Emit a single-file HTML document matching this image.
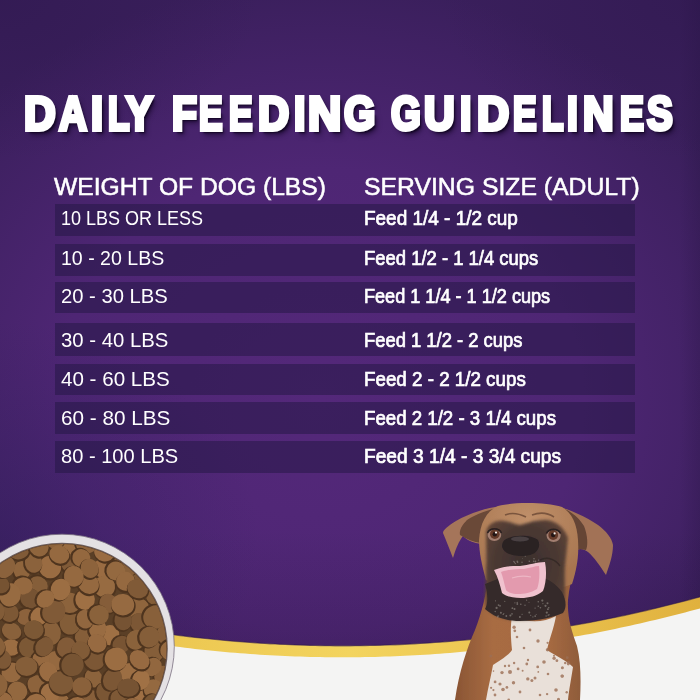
<!DOCTYPE html>
<html><head><meta charset="utf-8">
<style>
html,body{margin:0;padding:0;}
body{width:700px;height:700px;overflow:hidden;position:relative;font-family:"Liberation Sans",sans-serif;
background:#452270;}
#bg{position:absolute;left:0;top:0;width:700px;height:700px;
background:
 radial-gradient(ellipse 260px 220px at 0px 540px, rgba(40,28,85,0.4) 0%, rgba(40,28,85,0) 100%),
 linear-gradient(180deg, rgba(30,15,50,0) 0px, rgba(30,15,50,0) 530px, rgba(30,15,50,0.18) 650px),
 radial-gradient(ellipse 260px 160px at 0px 0px, rgba(40,20,70,0.35) 0%, rgba(40,20,70,0) 100%),
 radial-gradient(ellipse 260px 160px at 700px 0px, rgba(40,20,70,0.35) 0%, rgba(40,20,70,0) 100%),
 linear-gradient(90deg, rgba(30,15,55,0) 0%, rgba(30,15,55,0) 97%, rgba(30,15,55,0.2) 100%),
 radial-gradient(ellipse 480px 420px at 320px 400px, rgb(84,40,122) 0%, rgb(78,38,116) 55%, rgb(58,31,92) 100%);}
.t{position:absolute;white-space:pre;color:#fff;transform-origin:0 0;line-height:1;}
.tl{position:absolute;top:89.5px;font-size:47.5px;font-weight:bold;color:#fff;-webkit-text-stroke:4px #fff;line-height:1;transform-origin:0 0;white-space:pre;text-shadow:3px 3px 2px rgba(18,5,35,0.95), 4px 5px 6px rgba(18,5,35,0.6);}
.hdr{font-size:24.7px;-webkit-text-stroke:0.55px #fff;}
.bar{position:absolute;left:55px;width:580px;background:rgba(34,22,66,0.5);}
.l{font-size:21px;left:61.2px;}
.r{font-size:20px;font-weight:normal;-webkit-text-stroke:0.7px #fff;left:364px;}
svg{position:absolute;left:0;top:0;}
</style></head><body>
<div id="bg"></div>
<div class="tl" style="left:23.58px;transform:scaleX(0.9242)">D</div>
<div class="tl" style="left:58.63px;transform:scaleX(0.8158)">A</div>
<div class="tl" style="left:90.59px;transform:scaleX(0.9091)">I</div>
<div class="tl" style="left:107.76px;transform:scaleX(0.7414)">L</div>
<div class="tl" style="left:125.69px;transform:scaleX(0.8472)">Y</div>
<div class="tl" style="left:172.14px;transform:scaleX(0.8571)">F</div>
<div class="tl" style="left:199.26px;transform:scaleX(0.7419)">E</div>
<div class="tl" style="left:228.76px;transform:scaleX(0.7419)">E</div>
<div class="tl" style="left:257.59px;transform:scaleX(0.9091)">D</div>
<div class="tl" style="left:293.64px;transform:scaleX(0.8636)">I</div>
<div class="tl" style="left:308.03px;transform:scaleX(0.9688)">N</div>
<div class="tl" style="left:343.50px;transform:scaleX(0.8472)">G</div>
<div class="tl" style="left:390.50px;transform:scaleX(0.8056)">G</div>
<div class="tl" style="left:423.61px;transform:scaleX(0.8939)">U</div>
<div class="tl" style="left:460.14px;transform:scaleX(0.8636)">I</div>
<div class="tl" style="left:476.56px;transform:scaleX(0.9394)">D</div>
<div class="tl" style="left:513.26px;transform:scaleX(0.7419)">E</div>
<div class="tl" style="left:541.76px;transform:scaleX(0.7414)">L</div>
<div class="tl" style="left:567.18px;transform:scaleX(0.8182)">I</div>
<div class="tl" style="left:583.11px;transform:scaleX(0.8906)">N</div>
<div class="tl" style="left:619.85px;transform:scaleX(0.7548)">E</div>
<div class="tl" style="left:647.11px;transform:scaleX(0.8121)">S</div>
<div class="t hdr" style="left:54px;top:175px;transform:scaleX(0.998)">WEIGHT OF DOG (LBS)</div>
<div class="t hdr" style="left:364px;top:175px;transform:scaleX(1.003)">SERVING SIZE (ADULT)</div>

<div class="bar" style="top:204px;height:32px"></div>
<div class="bar" style="top:244px;height:32px"></div>
<div class="bar" style="top:282px;height:31px"></div>
<div class="bar" style="top:323px;height:33px"></div>
<div class="bar" style="top:364px;height:31px"></div>
<div class="bar" style="top:402px;height:32px"></div>
<div class="bar" style="top:441px;height:32px"></div>

<div class="t l" style="top:207px;transform:scaleX(0.8571)">10 LBS OR LESS</div>
<div class="t l" style="top:247px;transform:scaleX(0.9305)">10 - 20 LBS</div>
<div class="t l" style="top:285px;transform:scaleX(0.9619)">20 - 30 LBS</div>
<div class="t l" style="top:329px;transform:scaleX(0.9676)">30 - 40 LBS</div>
<div class="t l" style="top:368px;transform:scaleX(0.98)">40 - 60 LBS</div>
<div class="t l" style="top:407px;transform:scaleX(0.9857)">60 - 80 LBS</div>
<div class="t l" style="top:445px;transform:scaleX(0.9562)">80 - 100 LBS</div>

<div class="t r" style="top:208px;transform:scaleX(0.9478)">Feed 1/4 - 1/2 cup</div>
<div class="t r" style="top:248px;transform:scaleX(0.9221)">Feed 1/2 - 1 1/4 cups</div>
<div class="t r" style="top:286px;transform:scaleX(0.9048)">Feed 1 1/4 - 1 1/2 cups</div>
<div class="t r" style="top:330px;transform:scaleX(0.9192)">Feed 1 1/2 - 2 cups</div>
<div class="t r" style="top:369px;transform:scaleX(0.9388)">Feed 2 - 2 1/2 cups</div>
<div class="t r" style="top:408px;transform:scaleX(0.9333)">Feed 2 1/2 - 3 1/4 cups</div>
<div class="t r" style="top:446px;transform:scaleX(0.9583)">Feed 3 1/4 - 3 3/4 cups</div>

<svg width="700" height="700" viewBox="0 0 700 700">
<defs>
 <linearGradient id="gold" x1="0" x2="1" y1="0" y2="0">
  <stop offset="0" stop-color="#e6bb45"/><stop offset="0.5" stop-color="#f3d45e"/><stop offset="0.8" stop-color="#e9c04c"/><stop offset="1" stop-color="#e0b13e"/>
 </linearGradient>
 <clipPath id="bowlclip"><circle cx="62" cy="648.5" r="104.5"/></clipPath>
</defs>
<!-- gold band: ellipse bottom (cx345, cy318.5, rx700, ry326) -->
<path d="M0,560 L0,620 A700,326 0 0 0 700,598 L700,560 Z" fill="none"/>
<path id="goldp" d="M0,700 L0,600.6 L5,601.9 L10,603.2 L15,604.5 L20,605.7 L25,607.0 L30,608.2 L35,609.4 L40,610.5 L45,611.7 L50,612.8 L55,613.9 L60,615.0 L65,616.1 L70,617.2 L75,618.2 L80,619.2 L85,620.2 L90,621.2 L95,622.2 L100,623.1 L105,624.0 L110,625.0 L115,625.8 L120,626.7 L125,627.6 L130,628.4 L135,629.2 L140,630.0 L145,630.7 L150,631.5 L155,632.2 L160,632.9 L165,633.6 L170,634.3 L175,635.0 L180,635.6 L185,636.2 L190,636.8 L195,637.4 L200,637.9 L205,638.5 L210,639.0 L215,639.5 L220,640.0 L225,640.5 L230,640.9 L235,641.3 L240,641.7 L245,642.1 L250,642.5 L255,642.8 L260,643.2 L265,643.5 L270,643.8 L275,644.0 L280,644.3 L285,644.5 L290,644.7 L295,644.9 L300,645.1 L305,645.2 L310,645.4 L315,645.5 L320,645.6 L325,645.7 L330,645.7 L335,645.8 L340,645.8 L345,645.8 L350,645.8 L355,645.7 L360,645.7 L365,645.6 L370,645.5 L375,645.4 L380,645.3 L385,645.1 L390,645.0 L395,644.8 L400,644.6 L405,644.3 L410,644.1 L415,643.8 L420,643.5 L425,643.2 L430,642.9 L435,642.5 L440,642.2 L445,641.8 L450,641.4 L455,641.0 L460,640.5 L465,640.1 L470,639.6 L475,639.1 L480,638.6 L485,638.1 L490,637.5 L495,636.9 L500,636.3 L505,635.7 L510,635.1 L515,634.4 L520,633.8 L525,633.1 L530,632.4 L535,631.6 L540,630.9 L545,630.1 L550,629.3 L555,628.5 L560,627.7 L565,626.9 L570,626.0 L575,625.1 L580,624.2 L585,623.3 L590,622.4 L595,621.4 L600,620.4 L605,619.4 L610,618.4 L615,617.4 L620,616.3 L625,615.3 L630,614.2 L635,613.1 L640,611.9 L645,610.8 L650,609.6 L655,608.4 L660,607.2 L665,606.0 L670,604.7 L675,603.5 L680,602.2 L685,600.9 L690,599.6 L695,598.2 L700,596.9 L700,700 Z" fill="url(#gold)"/>
<path d="M0,600.6 L5,601.9 L10,603.2 L15,604.5 L20,605.7 L25,607.0 L30,608.2 L35,609.4 L40,610.5 L45,611.7 L50,612.8 L55,613.9 L60,615.0 L65,616.1 L70,617.2 L75,618.2 L80,619.2 L85,620.2 L90,621.2 L95,622.2 L100,623.1 L105,624.0 L110,625.0 L115,625.8 L120,626.7 L125,627.6 L130,628.4 L135,629.2 L140,630.0 L145,630.7 L150,631.5 L155,632.2 L160,632.9 L165,633.6 L170,634.3 L175,635.0 L180,635.6 L185,636.2 L190,636.8 L195,637.4 L200,637.9 L205,638.5 L210,639.0 L215,639.5 L220,640.0 L225,640.5 L230,640.9 L235,641.3 L240,641.7 L245,642.1 L250,642.5 L255,642.8 L260,643.2 L265,643.5 L270,643.8 L275,644.0 L280,644.3 L285,644.5 L290,644.7 L295,644.9 L300,645.1 L305,645.2 L310,645.4 L315,645.5 L320,645.6 L325,645.7 L330,645.7 L335,645.8 L340,645.8 L345,645.8 L350,645.8 L355,645.7 L360,645.7 L365,645.6 L370,645.5 L375,645.4 L380,645.3 L385,645.1 L390,645.0 L395,644.8 L400,644.6 L405,644.3 L410,644.1 L415,643.8 L420,643.5 L425,643.2 L430,642.9 L435,642.5 L440,642.2 L445,641.8 L450,641.4 L455,641.0 L460,640.5 L465,640.1 L470,639.6 L475,639.1 L480,638.6 L485,638.1 L490,637.5 L495,636.9 L500,636.3 L505,635.7 L510,635.1 L515,634.4 L520,633.8 L525,633.1 L530,632.4 L535,631.6 L540,630.9 L545,630.1 L550,629.3 L555,628.5 L560,627.7 L565,626.9 L570,626.0 L575,625.1 L580,624.2 L585,623.3 L590,622.4 L595,621.4 L600,620.4 L605,619.4 L610,618.4 L615,617.4 L620,616.3 L625,615.3 L630,614.2 L635,613.1 L640,611.9 L645,610.8 L650,609.6 L655,608.4 L660,607.2 L665,606.0 L670,604.7 L675,603.5 L680,602.2 L685,600.9 L690,599.6 L695,598.2 L700,596.9" fill="none" stroke="#2e1a4a" stroke-width="1.2" stroke-opacity="0.55"/>
<path id="whitep" d="M0,700 L0,612.1 L5,613.4 L10,614.7 L15,616.0 L20,617.2 L25,618.5 L30,619.7 L35,620.9 L40,622.0 L45,623.2 L50,624.3 L55,625.4 L60,626.5 L65,627.6 L70,628.7 L75,629.7 L80,630.7 L85,631.7 L90,632.7 L95,633.7 L100,634.6 L105,635.5 L110,636.5 L115,637.3 L120,638.2 L125,639.1 L130,639.9 L135,640.7 L140,641.5 L145,642.2 L150,643.0 L155,643.7 L160,644.4 L165,645.1 L170,645.8 L175,646.5 L180,647.1 L185,647.7 L190,648.3 L195,648.9 L200,649.4 L205,650.0 L210,650.5 L215,651.0 L220,651.5 L225,652.0 L230,652.4 L235,652.8 L240,653.2 L245,653.6 L250,654.0 L255,654.3 L260,654.7 L265,655.0 L270,655.3 L275,655.5 L280,655.8 L285,656.0 L290,656.2 L295,656.4 L300,656.6 L305,656.7 L310,656.9 L315,657.0 L320,657.1 L325,657.2 L330,657.2 L335,657.3 L340,657.3 L345,657.3 L350,657.3 L355,657.2 L360,657.2 L365,657.1 L370,657.0 L375,656.9 L380,656.8 L385,656.6 L390,656.5 L395,656.3 L400,656.1 L405,655.8 L410,655.6 L415,655.3 L420,655.0 L425,654.7 L430,654.4 L435,654.0 L440,653.7 L445,653.3 L450,652.9 L455,652.5 L460,652.0 L465,651.6 L470,651.1 L475,650.6 L480,650.1 L485,649.6 L490,649.0 L495,648.4 L500,647.8 L505,647.2 L510,646.6 L515,645.9 L520,645.3 L525,644.6 L530,643.9 L535,643.1 L540,642.4 L545,641.6 L550,640.8 L555,640.0 L560,639.2 L565,638.4 L570,637.5 L575,636.6 L580,635.7 L585,634.8 L590,633.9 L595,632.9 L600,631.9 L605,630.9 L610,629.9 L615,628.9 L620,627.8 L625,626.8 L630,625.7 L635,624.6 L640,623.4 L645,622.3 L650,621.1 L655,619.9 L660,618.7 L665,617.5 L670,616.2 L675,615.0 L680,613.7 L685,612.4 L690,611.1 L695,609.7 L700,608.4 L700,700 Z" fill="#f4f4f3"/>
<!-- bowl -->
<circle cx="62" cy="646.5" r="112.3" fill="#e4e1e4" stroke="#7a7080" stroke-width="0.8"/>
<circle cx="62" cy="648.5" r="105.8" fill="#6a5a58"/>
<circle cx="62" cy="648.5" r="104.5" fill="#5a3f26"/>
<g clip-path="url(#bowlclip)">
<g transform="rotate(156 37.6 586.4)"><ellipse cx="38.4" cy="587.6" rx="11.0" ry="11.0" fill="#4e341e"/><ellipse cx="37.6" cy="586.4" rx="10.2" ry="10.2" fill="#855e39"/></g>
<g transform="rotate(30 109.6 635.1)"><ellipse cx="110.4" cy="636.3" rx="10.7" ry="10.9" fill="#4e341e"/><ellipse cx="109.6" cy="635.1" rx="9.9" ry="10.1" fill="#9f7044"/></g>
<g transform="rotate(125 -9.8 565.9)"><ellipse cx="-9.0" cy="567.1" rx="10.8" ry="9.6" fill="#4e341e"/><ellipse cx="-9.8" cy="565.9" rx="10.0" ry="8.8" fill="#92673f"/></g>
<g transform="rotate(5 143.3 574.6)"><ellipse cx="144.1" cy="575.8" rx="12.1" ry="12.1" fill="#4e341e"/><ellipse cx="143.3" cy="574.6" rx="11.3" ry="11.3" fill="#7e5936"/></g>
<g transform="rotate(82 88.9 698.6)"><ellipse cx="89.7" cy="699.8" rx="10.3" ry="9.8" fill="#4e341e"/><ellipse cx="88.9" cy="698.6" rx="9.5" ry="9.0" fill="#875f3a"/></g>
<g transform="rotate(147 85.0 635.5)"><ellipse cx="85.8" cy="636.7" rx="11.4" ry="9.8" fill="#4e341e"/><ellipse cx="85.0" cy="635.5" rx="10.6" ry="9.0" fill="#855e39"/></g>
<g transform="rotate(90 70.2 623.1)"><ellipse cx="71.0" cy="624.3" rx="12.2" ry="11.3" fill="#4e341e"/><ellipse cx="70.2" cy="623.1" rx="11.4" ry="10.5" fill="#835d38"/></g>
<g transform="rotate(176 60.3 702.9)"><ellipse cx="61.1" cy="704.1" rx="10.4" ry="10.2" fill="#4e341e"/><ellipse cx="60.3" cy="702.9" rx="9.6" ry="9.4" fill="#966a40"/></g>
<g transform="rotate(94 55.7 660.8)"><ellipse cx="56.5" cy="662.0" rx="10.5" ry="10.4" fill="#4e341e"/><ellipse cx="55.7" cy="660.8" rx="9.7" ry="9.6" fill="#956940"/></g>
<g transform="rotate(111 30.5 598.4)"><ellipse cx="31.3" cy="599.6" rx="10.6" ry="10.9" fill="#4e341e"/><ellipse cx="30.5" cy="598.4" rx="9.8" ry="10.1" fill="#765333"/></g>
<g transform="rotate(28 11.6 631.1)"><ellipse cx="12.4" cy="632.3" rx="10.8" ry="9.1" fill="#4e341e"/><ellipse cx="11.6" cy="631.1" rx="10.0" ry="8.3" fill="#89613b"/></g>
<g transform="rotate(96 97.7 628.9)"><ellipse cx="98.5" cy="630.1" rx="10.9" ry="9.4" fill="#4e341e"/><ellipse cx="97.7" cy="628.9" rx="10.1" ry="8.6" fill="#996c42"/></g>
<g transform="rotate(98 107.8 705.3)"><ellipse cx="108.6" cy="706.5" rx="10.2" ry="10.3" fill="#4e341e"/><ellipse cx="107.8" cy="705.3" rx="9.4" ry="9.5" fill="#976a41"/></g>
<g transform="rotate(116 -11.8 599.0)"><ellipse cx="-11.0" cy="600.2" rx="11.8" ry="10.6" fill="#4e341e"/><ellipse cx="-11.8" cy="599.0" rx="11.0" ry="9.8" fill="#8a613b"/></g>
<g transform="rotate(1 -31.5 637.3)"><ellipse cx="-30.7" cy="638.5" rx="10.9" ry="9.9" fill="#4e341e"/><ellipse cx="-31.5" cy="637.3" rx="10.1" ry="9.1" fill="#88603b"/></g>
<g transform="rotate(67 93.5 677.9)"><ellipse cx="94.3" cy="679.1" rx="10.5" ry="9.4" fill="#4e341e"/><ellipse cx="93.5" cy="677.9" rx="9.7" ry="8.6" fill="#8c633c"/></g>
<g transform="rotate(68 94.4 658.5)"><ellipse cx="95.2" cy="659.7" rx="12.5" ry="11.4" fill="#4e341e"/><ellipse cx="94.4" cy="658.5" rx="11.7" ry="10.6" fill="#7c5735"/></g>
<g transform="rotate(50 71.5 546.0)"><ellipse cx="72.3" cy="547.2" rx="9.8" ry="10.4" fill="#4e341e"/><ellipse cx="71.5" cy="546.0" rx="9.0" ry="9.6" fill="#996c42"/></g>
<g transform="rotate(106 17.3 691.4)"><ellipse cx="18.1" cy="692.6" rx="10.6" ry="10.7" fill="#4e341e"/><ellipse cx="17.3" cy="691.4" rx="9.8" ry="9.9" fill="#93683f"/></g>
<g transform="rotate(3 69.5 602.7)"><ellipse cx="70.3" cy="603.9" rx="12.1" ry="11.1" fill="#4e341e"/><ellipse cx="69.5" cy="602.7" rx="11.3" ry="10.3" fill="#8c633c"/></g>
<g transform="rotate(77 164.0 676.5)"><ellipse cx="164.8" cy="677.7" rx="11.5" ry="10.5" fill="#4e341e"/><ellipse cx="164.0" cy="676.5" rx="10.7" ry="9.7" fill="#8a613b"/></g>
<g transform="rotate(67 -31.3 680.9)"><ellipse cx="-30.5" cy="682.1" rx="10.3" ry="9.6" fill="#4e341e"/><ellipse cx="-31.3" cy="680.9" rx="9.5" ry="8.8" fill="#8c623c"/></g>
<g transform="rotate(118 129.7 673.0)"><ellipse cx="130.5" cy="674.2" rx="10.7" ry="10.8" fill="#4e341e"/><ellipse cx="129.7" cy="673.0" rx="9.9" ry="10.0" fill="#9c6e43"/></g>
<g transform="rotate(86 104.5 691.9)"><ellipse cx="105.3" cy="693.1" rx="10.4" ry="9.0" fill="#4e341e"/><ellipse cx="104.5" cy="691.9" rx="9.6" ry="8.2" fill="#7a5634"/></g>
<g transform="rotate(38 -22.1 648.2)"><ellipse cx="-21.3" cy="649.4" rx="10.3" ry="9.6" fill="#4e341e"/><ellipse cx="-22.1" cy="648.2" rx="9.5" ry="8.8" fill="#92673f"/></g>
<g transform="rotate(52 20.7 711.9)"><ellipse cx="21.5" cy="713.1" rx="10.5" ry="10.1" fill="#4e341e"/><ellipse cx="20.7" cy="711.9" rx="9.7" ry="9.3" fill="#9e6f44"/></g>
<g transform="rotate(166 137.7 608.5)"><ellipse cx="138.5" cy="609.7" rx="12.2" ry="11.1" fill="#4e341e"/><ellipse cx="137.7" cy="608.5" rx="11.4" ry="10.3" fill="#8f653d"/></g>
<g transform="rotate(1 11.1 647.5)"><ellipse cx="11.9" cy="648.7" rx="10.2" ry="9.1" fill="#4e341e"/><ellipse cx="11.1" cy="647.5" rx="9.4" ry="8.3" fill="#9b6d42"/></g>
<g transform="rotate(166 25.9 616.9)"><ellipse cx="26.7" cy="618.1" rx="10.0" ry="8.7" fill="#4e341e"/><ellipse cx="25.9" cy="616.9" rx="9.2" ry="7.9" fill="#8c623c"/></g>
<g transform="rotate(47 102.6 569.3)"><ellipse cx="103.4" cy="570.5" rx="11.2" ry="9.3" fill="#4e341e"/><ellipse cx="102.6" cy="569.3" rx="10.4" ry="8.5" fill="#9a6c42"/></g>
<g transform="rotate(81 -42.7 623.2)"><ellipse cx="-41.9" cy="624.4" rx="10.3" ry="8.9" fill="#4e341e"/><ellipse cx="-42.7" cy="623.2" rx="9.5" ry="8.1" fill="#765333"/></g>
<g transform="rotate(131 39.7 616.1)"><ellipse cx="40.5" cy="617.3" rx="10.9" ry="9.4" fill="#4e341e"/><ellipse cx="39.7" cy="616.1" rx="10.1" ry="8.6" fill="#9f7044"/></g>
<g transform="rotate(70 69.5 563.1)"><ellipse cx="70.3" cy="564.3" rx="10.0" ry="9.3" fill="#4e341e"/><ellipse cx="69.5" cy="563.1" rx="9.2" ry="8.5" fill="#805a37"/></g>
<g transform="rotate(41 50.0 567.1)"><ellipse cx="50.8" cy="568.3" rx="12.0" ry="11.8" fill="#4e341e"/><ellipse cx="50.0" cy="567.1" rx="11.2" ry="11.0" fill="#9a6c42"/></g>
<g transform="rotate(141 -30.8 594.2)"><ellipse cx="-30.0" cy="595.4" rx="10.6" ry="11.0" fill="#4e341e"/><ellipse cx="-30.8" cy="594.2" rx="9.8" ry="10.2" fill="#91663e"/></g>
<g transform="rotate(5 156.6 596.0)"><ellipse cx="157.4" cy="597.2" rx="11.5" ry="10.3" fill="#4e341e"/><ellipse cx="156.6" cy="596.0" rx="10.7" ry="9.5" fill="#835d38"/></g>
<g transform="rotate(110 66.4 647.6)"><ellipse cx="67.2" cy="648.8" rx="11.3" ry="10.1" fill="#4e341e"/><ellipse cx="66.4" cy="647.6" rx="10.5" ry="9.3" fill="#825b38"/></g>
<g transform="rotate(50 49.1 711.6)"><ellipse cx="49.9" cy="712.8" rx="10.8" ry="9.9" fill="#4e341e"/><ellipse cx="49.1" cy="711.6" rx="10.0" ry="9.1" fill="#9e7044"/></g>
<g transform="rotate(134 121.3 644.6)"><ellipse cx="122.1" cy="645.8" rx="10.1" ry="9.2" fill="#4e341e"/><ellipse cx="121.3" cy="644.6" rx="9.3" ry="8.4" fill="#785433"/></g>
<g transform="rotate(113 29.1 647.3)"><ellipse cx="29.9" cy="648.5" rx="11.1" ry="11.0" fill="#4e341e"/><ellipse cx="29.1" cy="647.3" rx="10.3" ry="10.2" fill="#7c5835"/></g>
<g transform="rotate(123 -37.4 608.0)"><ellipse cx="-36.6" cy="609.2" rx="10.8" ry="10.2" fill="#4e341e"/><ellipse cx="-37.4" cy="608.0" rx="10.0" ry="9.4" fill="#755332"/></g>
<g transform="rotate(160 87.3 543.5)"><ellipse cx="88.1" cy="544.7" rx="12.1" ry="10.7" fill="#4e341e"/><ellipse cx="87.3" cy="543.5" rx="11.3" ry="9.9" fill="#8e643d"/></g>
<g transform="rotate(75 -16.9 695.6)"><ellipse cx="-16.1" cy="696.8" rx="11.9" ry="11.4" fill="#4e341e"/><ellipse cx="-16.9" cy="695.6" rx="11.1" ry="10.6" fill="#815b37"/></g>
<g transform="rotate(116 41.1 659.4)"><ellipse cx="41.9" cy="660.6" rx="10.2" ry="9.5" fill="#4e341e"/><ellipse cx="41.1" cy="659.4" rx="9.4" ry="8.7" fill="#966940"/></g>
<g transform="rotate(35 -13.0 710.5)"><ellipse cx="-12.2" cy="711.7" rx="10.8" ry="9.9" fill="#4e341e"/><ellipse cx="-13.0" cy="710.5" rx="10.0" ry="9.1" fill="#875f3a"/></g>
<g transform="rotate(173 11.7 672.4)"><ellipse cx="12.5" cy="673.6" rx="11.0" ry="10.6" fill="#4e341e"/><ellipse cx="11.7" cy="672.4" rx="10.2" ry="9.8" fill="#956940"/></g>
<g transform="rotate(89 51.1 633.2)"><ellipse cx="51.9" cy="634.4" rx="12.7" ry="10.6" fill="#4e341e"/><ellipse cx="51.1" cy="633.2" rx="11.9" ry="9.8" fill="#89613b"/></g>
<g transform="rotate(78 22.0 570.4)"><ellipse cx="22.8" cy="571.6" rx="10.1" ry="9.2" fill="#4e341e"/><ellipse cx="22.0" cy="570.4" rx="9.3" ry="8.4" fill="#8f653d"/></g>
<g transform="rotate(80 154.5 651.1)"><ellipse cx="155.3" cy="652.3" rx="11.3" ry="10.8" fill="#4e341e"/><ellipse cx="154.5" cy="651.1" rx="10.5" ry="10.0" fill="#855e39"/></g>
<g transform="rotate(87 85.1 599.5)"><ellipse cx="85.9" cy="600.7" rx="11.4" ry="10.6" fill="#4e341e"/><ellipse cx="85.1" cy="599.5" rx="10.6" ry="9.8" fill="#9f7044"/></g>
<g transform="rotate(101 -33.9 654.3)"><ellipse cx="-33.1" cy="655.5" rx="10.0" ry="10.4" fill="#4e341e"/><ellipse cx="-33.9" cy="654.3" rx="9.2" ry="9.6" fill="#8d633d"/></g>
<g transform="rotate(76 85.1 619.1)"><ellipse cx="85.9" cy="620.3" rx="10.3" ry="9.2" fill="#4e341e"/><ellipse cx="85.1" cy="619.1" rx="9.5" ry="8.4" fill="#92673f"/></g>
<g transform="rotate(36 97.1 643.2)"><ellipse cx="97.9" cy="644.4" rx="10.5" ry="9.8" fill="#4e341e"/><ellipse cx="97.1" cy="643.2" rx="9.7" ry="9.0" fill="#976a41"/></g>
<g transform="rotate(107 119.7 698.4)"><ellipse cx="120.5" cy="699.6" rx="9.7" ry="10.0" fill="#4e341e"/><ellipse cx="119.7" cy="698.4" rx="8.9" ry="9.2" fill="#7e5936"/></g>
<g transform="rotate(50 37.9 685.9)"><ellipse cx="38.7" cy="687.1" rx="12.2" ry="10.4" fill="#4e341e"/><ellipse cx="37.9" cy="685.9" rx="11.4" ry="9.6" fill="#8d633c"/></g>
<g transform="rotate(6 26.4 666.3)"><ellipse cx="27.2" cy="667.5" rx="11.8" ry="10.4" fill="#4e341e"/><ellipse cx="26.4" cy="666.3" rx="11.0" ry="9.6" fill="#855e39"/></g>
<g transform="rotate(65 54.9 537.8)"><ellipse cx="55.7" cy="539.0" rx="11.7" ry="11.4" fill="#4e341e"/><ellipse cx="54.9" cy="537.8" rx="10.9" ry="10.6" fill="#8d633c"/></g>
<g transform="rotate(89 129.7 564.8)"><ellipse cx="130.5" cy="566.0" rx="11.4" ry="10.1" fill="#4e341e"/><ellipse cx="129.7" cy="564.8" rx="10.6" ry="9.3" fill="#88603a"/></g>
<g transform="rotate(67 2.4 659.1)"><ellipse cx="3.2" cy="660.3" rx="10.7" ry="9.5" fill="#4e341e"/><ellipse cx="2.4" cy="659.1" rx="9.9" ry="8.7" fill="#7d5836"/></g>
<g transform="rotate(172 23.0 586.0)"><ellipse cx="23.8" cy="587.2" rx="10.7" ry="9.5" fill="#4e341e"/><ellipse cx="23.0" cy="586.0" rx="9.9" ry="8.7" fill="#956940"/></g>
<g transform="rotate(62 48.3 671.7)"><ellipse cx="49.1" cy="672.9" rx="10.9" ry="9.6" fill="#4e341e"/><ellipse cx="48.3" cy="671.7" rx="10.1" ry="8.8" fill="#9a6c42"/></g>
<g transform="rotate(34 9.4 612.8)"><ellipse cx="10.2" cy="614.0" rx="10.0" ry="9.8" fill="#4e341e"/><ellipse cx="9.4" cy="612.8" rx="9.2" ry="9.0" fill="#7d5835"/></g>
<g transform="rotate(99 10.1 594.9)"><ellipse cx="10.9" cy="596.1" rx="12.5" ry="11.5" fill="#4e341e"/><ellipse cx="10.1" cy="594.9" rx="11.7" ry="10.7" fill="#976b41"/></g>
<g transform="rotate(30 0.4 584.7)"><ellipse cx="1.2" cy="585.9" rx="10.0" ry="9.2" fill="#4e341e"/><ellipse cx="0.4" cy="584.7" rx="9.2" ry="8.4" fill="#765332"/></g>
<g transform="rotate(152 140.9 694.0)"><ellipse cx="141.7" cy="695.2" rx="10.6" ry="9.9" fill="#4e341e"/><ellipse cx="140.9" cy="694.0" rx="9.8" ry="9.1" fill="#9e6f44"/></g>
<g transform="rotate(136 53.8 611.9)"><ellipse cx="54.6" cy="613.1" rx="12.9" ry="11.8" fill="#4e341e"/><ellipse cx="53.8" cy="611.9" rx="12.1" ry="11.0" fill="#805a37"/></g>
<g transform="rotate(56 139.8 623.0)"><ellipse cx="140.6" cy="624.2" rx="11.0" ry="10.1" fill="#4e341e"/><ellipse cx="139.8" cy="623.0" rx="10.2" ry="9.3" fill="#7c5735"/></g>
<g transform="rotate(134 152.6 667.0)"><ellipse cx="153.4" cy="668.2" rx="10.6" ry="9.3" fill="#4e341e"/><ellipse cx="152.6" cy="667.0" rx="9.8" ry="8.5" fill="#92673f"/></g>
<g transform="rotate(65 -46.4 645.8)"><ellipse cx="-45.6" cy="647.0" rx="10.8" ry="10.8" fill="#4e341e"/><ellipse cx="-46.4" cy="645.8" rx="10.0" ry="10.0" fill="#91663e"/></g>
<g transform="rotate(150 81.3 558.1)"><ellipse cx="82.1" cy="559.3" rx="9.8" ry="9.8" fill="#4e341e"/><ellipse cx="81.3" cy="558.1" rx="9.0" ry="9.0" fill="#94683f"/></g>
<g transform="rotate(9 104.3 586.5)"><ellipse cx="105.1" cy="587.7" rx="11.6" ry="11.5" fill="#4e341e"/><ellipse cx="104.3" cy="586.5" rx="10.8" ry="10.7" fill="#976b41"/></g>
<g transform="rotate(157 50.5 692.9)"><ellipse cx="51.3" cy="694.1" rx="10.3" ry="10.5" fill="#4e341e"/><ellipse cx="50.5" cy="692.9" rx="9.5" ry="9.7" fill="#9f7045"/></g>
<g transform="rotate(26 61.2 682.8)"><ellipse cx="62.0" cy="684.0" rx="13.0" ry="12.2" fill="#4e341e"/><ellipse cx="61.2" cy="682.8" rx="12.2" ry="11.4" fill="#7f5a37"/></g>
<g transform="rotate(25 59.3 554.5)"><ellipse cx="60.1" cy="555.7" rx="10.9" ry="9.7" fill="#4e341e"/><ellipse cx="59.3" cy="554.5" rx="10.1" ry="8.9" fill="#956940"/></g>
<g transform="rotate(45 153.4 688.9)"><ellipse cx="154.2" cy="690.1" rx="10.5" ry="10.6" fill="#4e341e"/><ellipse cx="153.4" cy="688.9" rx="9.7" ry="9.8" fill="#946940"/></g>
<g transform="rotate(98 -9.9 624.6)"><ellipse cx="-9.1" cy="625.8" rx="12.2" ry="10.5" fill="#4e341e"/><ellipse cx="-9.9" cy="624.6" rx="11.4" ry="9.7" fill="#966a40"/></g>
<g transform="rotate(110 112.6 679.5)"><ellipse cx="113.4" cy="680.7" rx="12.1" ry="10.2" fill="#4e341e"/><ellipse cx="112.6" cy="679.5" rx="11.3" ry="9.4" fill="#7c5735"/></g>
<g transform="rotate(132 117.8 557.0)"><ellipse cx="118.6" cy="558.2" rx="11.5" ry="9.2" fill="#4e341e"/><ellipse cx="117.8" cy="557.0" rx="10.7" ry="8.4" fill="#805a37"/></g>
<g transform="rotate(125 152.7 703.0)"><ellipse cx="153.5" cy="704.2" rx="9.9" ry="9.4" fill="#4e341e"/><ellipse cx="152.7" cy="703.0" rx="9.1" ry="8.6" fill="#795634"/></g>
<g transform="rotate(1 -21.0 614.4)"><ellipse cx="-20.2" cy="615.6" rx="10.6" ry="9.2" fill="#4e341e"/><ellipse cx="-21.0" cy="614.4" rx="9.8" ry="8.4" fill="#845d39"/></g>
<g transform="rotate(32 135.8 639.8)"><ellipse cx="136.6" cy="641.0" rx="10.3" ry="10.9" fill="#4e341e"/><ellipse cx="135.8" cy="639.8" rx="9.5" ry="10.1" fill="#8a623b"/></g>
<g transform="rotate(43 88.1 583.2)"><ellipse cx="88.9" cy="584.4" rx="12.4" ry="10.7" fill="#4e341e"/><ellipse cx="88.1" cy="583.2" rx="11.6" ry="9.9" fill="#956940"/></g>
<g transform="rotate(110 140.9 680.2)"><ellipse cx="141.7" cy="681.4" rx="10.9" ry="9.6" fill="#4e341e"/><ellipse cx="140.9" cy="680.2" rx="10.1" ry="8.8" fill="#a07145"/></g>
<g transform="rotate(1 -12.0 661.9)"><ellipse cx="-11.2" cy="663.1" rx="10.0" ry="9.1" fill="#4e341e"/><ellipse cx="-12.0" cy="661.9" rx="9.2" ry="8.3" fill="#855e39"/></g>
<g transform="rotate(12 104.7 551.9)"><ellipse cx="105.5" cy="553.1" rx="11.4" ry="10.4" fill="#4e341e"/><ellipse cx="104.7" cy="551.9" rx="10.6" ry="9.6" fill="#9a6c42"/></g>
<g transform="rotate(149 115.9 570.9)"><ellipse cx="116.7" cy="572.1" rx="10.3" ry="10.3" fill="#4e341e"/><ellipse cx="115.9" cy="570.9" rx="9.5" ry="9.5" fill="#946940"/></g>
<g transform="rotate(170 0.9 702.1)"><ellipse cx="1.7" cy="703.3" rx="12.5" ry="11.0" fill="#4e341e"/><ellipse cx="0.9" cy="702.1" rx="11.7" ry="10.2" fill="#976a41"/></g>
<g transform="rotate(124 44.4 646.7)"><ellipse cx="45.2" cy="647.9" rx="10.9" ry="9.4" fill="#4e341e"/><ellipse cx="44.4" cy="646.7" rx="10.1" ry="8.6" fill="#7d5836"/></g>
<g transform="rotate(84 123.2 620.3)"><ellipse cx="124.0" cy="621.5" rx="10.8" ry="9.6" fill="#4e341e"/><ellipse cx="123.2" cy="620.3" rx="10.0" ry="8.8" fill="#765333"/></g>
<g transform="rotate(158 -32.9 667.3)"><ellipse cx="-32.1" cy="668.5" rx="9.7" ry="9.7" fill="#4e341e"/><ellipse cx="-32.9" cy="667.3" rx="8.9" ry="8.9" fill="#9a6c42"/></g>
<g transform="rotate(32 168.5 634.7)"><ellipse cx="169.3" cy="635.9" rx="12.7" ry="11.9" fill="#4e341e"/><ellipse cx="168.5" cy="634.7" rx="11.9" ry="11.1" fill="#875f3a"/></g>
<g transform="rotate(91 -32.1 699.9)"><ellipse cx="-31.3" cy="701.1" rx="12.3" ry="10.7" fill="#4e341e"/><ellipse cx="-32.1" cy="699.9" rx="11.5" ry="9.9" fill="#7e5936"/></g>
<g transform="rotate(17 80.5 650.4)"><ellipse cx="81.3" cy="651.6" rx="10.2" ry="9.8" fill="#4e341e"/><ellipse cx="80.5" cy="650.4" rx="9.4" ry="9.0" fill="#815b37"/></g>
<g transform="rotate(67 108.4 603.3)"><ellipse cx="109.2" cy="604.5" rx="10.4" ry="9.7" fill="#4e341e"/><ellipse cx="108.4" cy="603.3" rx="9.6" ry="8.9" fill="#855d39"/></g>
<g transform="rotate(113 -4.5 685.3)"><ellipse cx="-3.7" cy="686.5" rx="12.7" ry="12.7" fill="#4e341e"/><ellipse cx="-4.5" cy="685.3" rx="11.9" ry="11.9" fill="#8c633c"/></g>
<g transform="rotate(139 75.6 707.7)"><ellipse cx="76.4" cy="708.9" rx="12.8" ry="10.5" fill="#4e341e"/><ellipse cx="75.6" cy="707.7" rx="12.0" ry="9.7" fill="#9a6c42"/></g>
<g transform="rotate(76 33.6 563.0)"><ellipse cx="34.4" cy="564.2" rx="10.7" ry="9.5" fill="#4e341e"/><ellipse cx="33.6" cy="563.0" rx="9.9" ry="8.7" fill="#8b623c"/></g>
<g transform="rotate(32 125.5 581.3)"><ellipse cx="126.3" cy="582.5" rx="10.1" ry="10.3" fill="#4e341e"/><ellipse cx="125.5" cy="581.3" rx="9.3" ry="9.5" fill="#956940"/></g>
<g transform="rotate(1 128.2 687.6)"><ellipse cx="129.0" cy="688.8" rx="11.7" ry="9.9" fill="#4e341e"/><ellipse cx="128.2" cy="687.6" rx="10.9" ry="9.1" fill="#765333"/></g>
<g transform="rotate(11 33.7 629.6)"><ellipse cx="34.5" cy="630.8" rx="10.8" ry="10.2" fill="#4e341e"/><ellipse cx="33.7" cy="629.6" rx="10.0" ry="9.4" fill="#7c5835"/></g>
<g transform="rotate(96 116.1 659.0)"><ellipse cx="116.9" cy="660.2" rx="12.3" ry="12.2" fill="#4e341e"/><ellipse cx="116.1" cy="659.0" rx="11.5" ry="11.4" fill="#9b6d42"/></g>
<g transform="rotate(46 -5.4 646.0)"><ellipse cx="-4.6" cy="647.2" rx="12.0" ry="10.7" fill="#4e341e"/><ellipse cx="-5.4" cy="646.0" rx="11.2" ry="9.9" fill="#88603a"/></g>
<g transform="rotate(6 122.7 604.7)"><ellipse cx="123.5" cy="605.9" rx="12.3" ry="11.5" fill="#4e341e"/><ellipse cx="122.7" cy="604.7" rx="11.5" ry="10.7" fill="#966a41"/></g>
<g transform="rotate(69 95.2 711.8)"><ellipse cx="96.0" cy="713.0" rx="10.8" ry="9.7" fill="#4e341e"/><ellipse cx="95.2" cy="711.8" rx="10.0" ry="8.9" fill="#956940"/></g>
<g transform="rotate(128 72.5 664.9)"><ellipse cx="73.3" cy="666.1" rx="12.2" ry="11.8" fill="#4e341e"/><ellipse cx="72.5" cy="664.9" rx="11.4" ry="11.0" fill="#775433"/></g>
<g transform="rotate(63 89.7 568.3)"><ellipse cx="90.5" cy="569.5" rx="10.6" ry="9.6" fill="#4e341e"/><ellipse cx="89.7" cy="568.3" rx="9.8" ry="8.8" fill="#8d633c"/></g>
<g transform="rotate(154 155.5 617.1)"><ellipse cx="156.3" cy="618.3" rx="13.2" ry="12.4" fill="#4e341e"/><ellipse cx="155.5" cy="617.1" rx="12.4" ry="11.6" fill="#88603a"/></g>
<g transform="rotate(11 17.2 549.2)"><ellipse cx="18.0" cy="550.4" rx="12.7" ry="10.9" fill="#4e341e"/><ellipse cx="17.2" cy="549.2" rx="11.9" ry="10.1" fill="#805a37"/></g>
<g transform="rotate(180 171.6 650.6)"><ellipse cx="172.4" cy="651.8" rx="12.1" ry="10.9" fill="#4e341e"/><ellipse cx="171.6" cy="650.6" rx="11.3" ry="10.1" fill="#966a41"/></g>
<g transform="rotate(120 4.9 567.0)"><ellipse cx="5.7" cy="568.2" rx="12.1" ry="10.8" fill="#4e341e"/><ellipse cx="4.9" cy="567.0" rx="11.3" ry="10.0" fill="#8b623c"/></g>
<g transform="rotate(119 149.5 637.0)"><ellipse cx="150.3" cy="638.2" rx="11.4" ry="10.9" fill="#4e341e"/><ellipse cx="149.5" cy="637.0" rx="10.6" ry="10.1" fill="#855e39"/></g>
<g transform="rotate(131 99.0 614.9)"><ellipse cx="99.8" cy="616.1" rx="10.5" ry="10.7" fill="#4e341e"/><ellipse cx="99.0" cy="614.9" rx="9.7" ry="9.9" fill="#8a623b"/></g>
<g transform="rotate(54 38.6 546.1)"><ellipse cx="39.4" cy="547.3" rx="11.6" ry="10.4" fill="#4e341e"/><ellipse cx="38.6" cy="546.1" rx="10.8" ry="9.6" fill="#8f653d"/></g>
<g transform="rotate(148 119.1 711.3)"><ellipse cx="119.9" cy="712.5" rx="10.9" ry="9.2" fill="#4e341e"/><ellipse cx="119.1" cy="711.3" rx="10.1" ry="8.4" fill="#835c38"/></g>
<g transform="rotate(79 73.8 576.3)"><ellipse cx="74.6" cy="577.5" rx="11.2" ry="10.7" fill="#4e341e"/><ellipse cx="73.8" cy="576.3" rx="10.4" ry="9.9" fill="#956940"/></g>
<g transform="rotate(104 60.6 589.5)"><ellipse cx="61.4" cy="590.7" rx="11.7" ry="10.7" fill="#4e341e"/><ellipse cx="60.6" cy="589.5" rx="10.9" ry="9.9" fill="#9c6e43"/></g>
<g transform="rotate(91 132.4 707.6)"><ellipse cx="133.2" cy="708.8" rx="10.3" ry="10.9" fill="#4e341e"/><ellipse cx="132.4" cy="707.6" rx="9.5" ry="10.1" fill="#946840"/></g>
<g transform="rotate(168 36.1 704.5)"><ellipse cx="36.9" cy="705.7" rx="11.6" ry="11.4" fill="#4e341e"/><ellipse cx="36.1" cy="704.5" rx="10.8" ry="10.6" fill="#9b6d43"/></g>
<g transform="rotate(98 -21.5 575.8)"><ellipse cx="-20.7" cy="577.0" rx="11.4" ry="11.3" fill="#4e341e"/><ellipse cx="-21.5" cy="575.8" rx="10.6" ry="10.5" fill="#795634"/></g>
<g transform="rotate(137 45.5 599.1)"><ellipse cx="46.3" cy="600.3" rx="10.3" ry="8.9" fill="#4e341e"/><ellipse cx="45.5" cy="599.1" rx="9.5" ry="8.1" fill="#986b41"/></g>
<g transform="rotate(124 -15.3 675.4)"><ellipse cx="-14.5" cy="676.6" rx="10.4" ry="9.3" fill="#4e341e"/><ellipse cx="-15.3" cy="675.4" rx="9.6" ry="8.5" fill="#92673f"/></g>
<g transform="rotate(80 -4.1 611.4)"><ellipse cx="-3.3" cy="612.6" rx="10.4" ry="9.7" fill="#4e341e"/><ellipse cx="-4.1" cy="611.4" rx="9.6" ry="8.9" fill="#825c38"/></g>
<g transform="rotate(162 -46.5 664.4)"><ellipse cx="-45.7" cy="665.6" rx="11.3" ry="9.3" fill="#4e341e"/><ellipse cx="-46.5" cy="664.4" rx="10.5" ry="8.5" fill="#865f3a"/></g>
<g transform="rotate(23 137.7 588.7)"><ellipse cx="138.5" cy="589.9" rx="11.5" ry="10.0" fill="#4e341e"/><ellipse cx="137.7" cy="588.7" rx="10.7" ry="9.2" fill="#805a37"/></g>
<g transform="rotate(3 81.8 686.5)"><ellipse cx="82.6" cy="687.7" rx="10.5" ry="10.0" fill="#4e341e"/><ellipse cx="81.8" cy="686.5" rx="9.7" ry="9.2" fill="#8a613b"/></g>
<g transform="rotate(39 139.6 659.7)"><ellipse cx="140.4" cy="660.9" rx="11.6" ry="9.5" fill="#4e341e"/><ellipse cx="139.6" cy="659.7" rx="10.8" ry="8.7" fill="#976a41"/></g>
</g>
<g id="dog">
 <defs>
  <radialGradient id="maskg" cx="0.5" cy="0.45" r="0.65">
   <stop offset="0" stop-color="#3a2e2d"/><stop offset="0.6" stop-color="#4b3933"/><stop offset="1" stop-color="#654737"/>
  </radialGradient>
  <linearGradient id="bodyg" x1="0" x2="1" y1="0" y2="0">
   <stop offset="0" stop-color="#8a5534"/><stop offset="0.3" stop-color="#a86c43"/><stop offset="0.75" stop-color="#a66a42"/><stop offset="1" stop-color="#8f5c3a"/>
  </linearGradient>
  <radialGradient id="headg" cx="0.5" cy="0.2" r="0.7">
   <stop offset="0" stop-color="#c0906a"/><stop offset="1" stop-color="#a87650"/>
  </radialGradient>
  <filter id="soft" x="-5%" y="-5%" width="110%" height="110%"><feGaussianBlur stdDeviation="0.6"/></filter>
  <filter id="soft2" x="-10%" y="-10%" width="120%" height="120%"><feGaussianBlur stdDeviation="1.6"/></filter>
 </defs>
 <g filter="url(#soft)">
 <!-- body -->
 <path d="M488,575 C487,592 482,612 475,630 C467,648 459,672 455,700 L580,700 C581,682 581,662 577,646 C572,632 567,618 568,600 C569,588 572,578 574,568 Z" fill="url(#bodyg)"/>
 <!-- white chest -->
 <path d="M512,616 C527,623 543,623 556,616 C554,628 549,640 547,650 C556,656 566,660 573,667 C571,680 569,690 568,700 L486,700 C488,688 491,676 493,665 C500,660 508,656 512,650 C511,640 510,628 512,616 Z" fill="#e9e0d9"/>
 <g fill="#9c6f55" opacity="0.8">
  <circle cx="530" cy="630" r="1.4"/><circle cx="538" cy="641" r="1.7"/><circle cx="524" cy="648" r="1.3"/><circle cx="544" cy="662" r="1.8"/>
  <circle cx="510" cy="672" r="2"/><circle cx="500" cy="684" r="1.6"/><circle cx="535" cy="678" r="1.5"/><circle cx="556" cy="690" r="1.8"/>
  <circle cx="520" cy="692" r="1.4"/><circle cx="548" cy="674" r="1.3"/><circle cx="528" cy="660" r="1.2"/><circle cx="517" cy="637" r="1.3"/>
  <circle cx="562" cy="676" r="1.5"/><circle cx="509.0" cy="665.8" r="1.2"/><circle cx="538.3" cy="671.9" r="0.9"/><circle cx="491.1" cy="687.8" r="1.1"/><circle cx="508.7" cy="699.7" r="1.3"/><circle cx="556.9" cy="660.7" r="1.4"/><circle cx="502.0" cy="672.6" r="1.7"/><circle cx="531.9" cy="680.6" r="1.5"/><circle cx="495.1" cy="681.9" r="1.4"/><circle cx="514.1" cy="627.3" r="1.7"/><circle cx="527.8" cy="678.9" r="1.7"/><circle cx="547.1" cy="694.1" r="1.2"/><circle cx="554.1" cy="658.3" r="1.7"/><circle cx="567.2" cy="657.7" r="1.4"/><circle cx="514.1" cy="663.0" r="1.2"/><circle cx="518.1" cy="668.9" r="1.4"/><circle cx="562.3" cy="676.1" r="1.7"/><circle cx="558.5" cy="699.3" r="1.5"/><circle cx="503.0" cy="689.5" r="1.8"/><circle cx="562.4" cy="667.7" r="1.5"/><circle cx="506.9" cy="687.4" r="1.4"/><circle cx="558.3" cy="699.2" r="0.9"/><circle cx="554.0" cy="655.8" r="1.0"/><circle cx="513.5" cy="682.7" r="1.7"/><circle cx="493.5" cy="671.1" r="0.8"/><circle cx="547.5" cy="649.8" r="1.7"/><circle cx="568.5" cy="662.9" r="1.8"/><circle cx="514.8" cy="630.8" r="1.4"/><circle cx="522.6" cy="670.8" r="1.0"/><circle cx="493.4" cy="690.1" r="1.1"/><circle cx="566.7" cy="692.2" r="1.2"/><circle cx="526.8" cy="664.0" r="1.4"/><circle cx="537.7" cy="666.9" r="1.4"/><circle cx="565.2" cy="663.0" r="1.2"/><circle cx="547.6" cy="642.8" r="1.1"/><circle cx="568.2" cy="664.1" r="1.3"/><circle cx="490.9" cy="656.1" r="1.4"/><circle cx="495" cy="695" r="1.4"/><circle cx="540" cy="695" r="1.3"/><circle cx="505" cy="666" r="1.2"/>
 </g>
 <!-- left ear -->
 <path d="M503,506 C488,507 470,513 456,521 C448,526 443,530 443,533 C446,540 450,550 453,558 C456,548 459,541 463,536 C468,541 474,543 481,544 Z" fill="#a5755a"/>
 <path d="M502,507 C490,509 476,514 467,520 C462,525 459,530 460,535 C466,539 474,542 481,543 Z" fill="#6a4838"/>
 <!-- right ear -->
 <path d="M555,506 C570,509 586,517 598,525 C606,531 612,538 613,545 C613,556 609,566 606,575 C600,566 594,557 588,552 C584,549 580,548 577,550 Z" fill="#a27257"/>
 <path d="M557,506 C568,509 578,516 584,526 C588,536 588,546 586,550 C582,549 579,549 577,550 Z" fill="#654434"/>
 <!-- head -->
 <path d="M498,506 C515,502 545,502 562,507 C572,513 577,524 578,540 C579,556 577,568 572,584 C555,592 505,592 486,580 C482,566 479,552 479,540 C480,524 486,511 498,506 Z" fill="url(#headg)"/>
 <!-- mask -->
 <path filter="url(#soft2)" d="M486,532 C488,524 494,520 504,521 C512,522 516,525 520,525 C526,524 532,520 546,520 C556,521 564,527 568,538 C567,548 566,556 565,566 C564,580 566,596 564,610 C552,618 535,620 515,620 C500,619 490,614 486,607 C484,595 486,582 486,570 C487,556 486,544 486,532 Z" fill="url(#maskg)"/>
 <!-- forehead wrinkles -->
 <path d="M505,515 C512,512 520,514 526,517" stroke="#7a543e" stroke-width="1.6" fill="none"/>
 <path d="M532,515 C540,512 548,513 554,517" stroke="#7a543e" stroke-width="1.6" fill="none"/>
 
 <!-- jowls -->
 <path d="M485,584 C489,598 487,606 485,609 C494,617 506,621 520,621 C540,621 553,617 563,613 C567,607 566,600 562,592 C556,584 548,578 540,578 L500,578 Z" fill="#352b2a"/>
 <g fill="#a09894" opacity="0.55"><circle cx="529.3" cy="612.6" r="1.0"/><circle cx="546.8" cy="612.6" r="1.1"/><circle cx="496.6" cy="607.9" r="1.1"/><circle cx="530.7" cy="615.3" r="0.6"/><circle cx="520.8" cy="604.2" r="0.8"/><circle cx="526.6" cy="600.2" r="0.6"/><circle cx="510.4" cy="615.6" r="1.0"/><circle cx="503.8" cy="613.6" r="0.6"/><circle cx="529.0" cy="602.2" r="0.5"/><circle cx="542.9" cy="603.6" r="0.6"/><circle cx="549.0" cy="614.8" r="0.7"/><circle cx="547.9" cy="609.2" r="0.9"/><circle cx="506.3" cy="616.0" r="0.9"/><circle cx="548.2" cy="615.2" r="0.7"/><circle cx="514.9" cy="602.8" r="0.6"/><circle cx="498.6" cy="605.1" r="0.9"/><circle cx="495.2" cy="611.5" r="0.7"/><circle cx="512.0" cy="613.9" r="0.8"/><circle cx="512.4" cy="608.2" r="0.9"/><circle cx="498.1" cy="616.6" r="0.5"/><circle cx="536.2" cy="614.4" r="0.5"/><circle cx="538.3" cy="606.2" r="0.8"/><circle cx="495.5" cy="600.8" r="0.6"/><circle cx="547.5" cy="603.3" r="1.0"/><circle cx="546.1" cy="616.0" r="0.7"/><circle cx="514.5" cy="608.9" r="1.0"/><circle cx="500.9" cy="612.7" r="1.0"/><circle cx="542.3" cy="600.6" r="1.1"/><circle cx="500.0" cy="605.8" r="0.9"/><circle cx="545.5" cy="605.8" r="1.1"/><circle cx="525.0" cy="605.3" r="0.7"/><circle cx="504.8" cy="601.3" r="0.6"/><circle cx="532.9" cy="616.9" r="0.6"/><circle cx="497.7" cy="616.8" r="0.8"/><circle cx="517.3" cy="604.0" r="0.9"/><circle cx="540.4" cy="607.7" r="0.8"/><circle cx="498.1" cy="615.6" r="0.5"/><circle cx="522.1" cy="614.3" r="0.6"/><circle cx="535.2" cy="616.1" r="0.9"/><circle cx="538.3" cy="601.8" r="0.8"/><circle cx="503.2" cy="614.4" r="0.7"/><circle cx="519.9" cy="617.0" r="1.0"/><circle cx="548.7" cy="607.7" r="0.8"/><circle cx="535.1" cy="608.1" r="0.7"/><circle cx="517.2" cy="602.5" r="0.7"/><circle cx="539.6" cy="563.7" r="0.7"/><circle cx="522.5" cy="558.7" r="0.4"/><circle cx="514.5" cy="562.3" r="0.8"/><circle cx="517.6" cy="562.3" r="0.8"/><circle cx="529.3" cy="561.3" r="0.8"/><circle cx="517.7" cy="561.6" r="0.5"/><circle cx="522.0" cy="562.2" r="0.7"/><circle cx="515.3" cy="563.6" r="0.7"/><circle cx="525.3" cy="556.1" r="0.7"/><circle cx="513.8" cy="561.4" r="0.6"/><circle cx="533.6" cy="561.2" r="0.8"/><circle cx="517.2" cy="561.2" r="0.8"/><circle cx="534.0" cy="558.8" r="0.8"/><circle cx="535.4" cy="561.5" r="0.9"/><circle cx="538.5" cy="560.1" r="0.7"/></g>
 <path d="M540,560 C548,556 556,560 560,566" stroke="#2a2222" stroke-width="1.5" fill="none" opacity="0.6"/>
 <!-- eyes -->
 <ellipse cx="494.4" cy="535" rx="6.8" ry="6" fill="#a27e70"/>
 <circle cx="494.8" cy="534.2" r="4.8" fill="#653a2a"/>
 <circle cx="494.8" cy="534.2" r="2.2" fill="#231413"/>
 <circle cx="496" cy="532.6" r="1.1" fill="#f4eee8"/>
 <path d="M487.5,533 C490,527.5 499,527.5 501.5,533" stroke="#2c2020" stroke-width="1.6" fill="none"/>
 <ellipse cx="553.6" cy="535.8" rx="7" ry="6.2" fill="#a27e70"/>
 <circle cx="553.2" cy="535" r="4.9" fill="#653a2a"/>
 <circle cx="553.2" cy="535" r="2.2" fill="#231413"/>
 <circle cx="554.6" cy="533.4" r="1.1" fill="#f4eee8"/>
 <path d="M546.5,533.5 C549,528 558,528 560.5,533.5" stroke="#2c2020" stroke-width="1.6" fill="none"/>
 <!-- nose -->
 <path d="M503,542 C506,535 530,533 538,540 C541,546 538,553 530,555 C522,557 513,556 507,553 C502,550 501,546 503,542 Z" fill="#292224"/>
 <ellipse cx="520" cy="539" rx="9" ry="2.5" fill="#6a6062" opacity="0.5"/>
 <!-- tongue -->
 <path d="M494,570 C503,566 512,566 520,566 C529,565 537,562 545,562 C547,572 546,584 543,591 C537,596 529,598 521,598 C512,598 505,596 502,593 C500,585 498,577 494,570 Z" fill="#f0c2ce"/>
 <path d="M501,572 C509,569 518,569 524,569 C530,568 535,566 539,566 C540,575 539,584 537,589 C531,593 524,594 518,594 C512,594 507,592 506,590 C504,583 503,577 501,572 Z" fill="#e39aae"/>
 <path d="M512,578 C518,576 526,576 531,577" stroke="#f3c9d3" stroke-width="1.2" fill="none" opacity="0.6"/>
 </g>
</g>

</svg>
</body></html>
